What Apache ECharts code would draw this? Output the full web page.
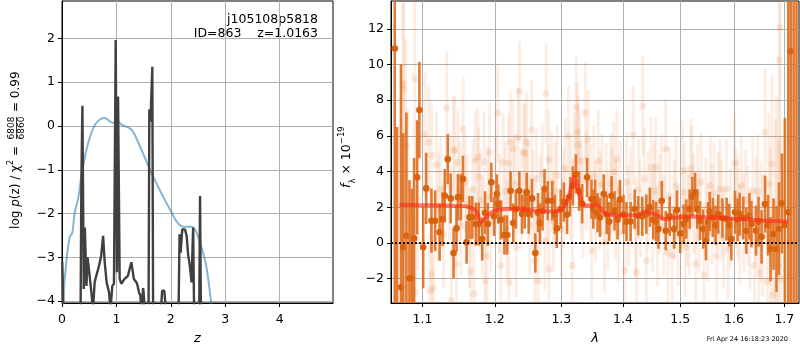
<!DOCTYPE html>
<html>
<head>
<meta charset="utf-8">
<script src="https://cdn.jsdelivr.net/npm/echarts@6/dist/echarts.min.js"></script>
<style>
  html, body { margin: 0; padding: 0; background: #fff; }
  #chart { width: 800px; height: 350px; }
</style>
</head>
<body>
<div id="chart"></div>
<script>
const FONT = 'DejaVu Sans';

// left panel: log p(z)
const zTicks = [0, 1, 2, 3, 4];
const logpTicks = [-4, -3, -2, -1, 0, 1, 2];
const priorCurve = [
  [0.0, -5.5], [0.02, -4.0], [0.08, -3.1], [0.14, -2.54], [0.19, -2.43], [0.233, -1.98],
  [0.295, -1.67], [0.356, -1.15], [0.45, -0.54], [0.54, -0.16], [0.63, 0.07], [0.785, 0.18],
  [0.94, 0.07], [1.03, 0.1], [1.09, 0.03], [1.275, -0.08], [1.39, -0.35], [1.51, -0.69],
  [1.64, -1.07], [1.76, -1.37], [1.88, -1.67], [2.0, -1.94], [2.10, -2.17], [2.22, -2.3],
  [2.37, -2.3], [2.46, -2.4], [2.555, -2.74], [2.65, -3.19], [2.71, -3.72], [2.74, -4.02], [2.78, -4.5]
];
const logpCurve = [
  [0.005, -3.1], [0.02, -3.11], [0.035, -4.6], [0.34, -4.6], [0.356, -1.26], [0.375, 0.46],
  [0.40, -3.72], [0.42, -2.32], [0.45, -3.65], [0.47, -3.0], [0.50, -3.33], [0.54, -3.8],
  [0.57, -4.2], [0.60, -3.57], [0.63, -3.42], [0.68, -3.19], [0.72, -2.96], [0.755, -2.51],
  [0.785, -3.11], [0.82, -3.57], [0.865, -3.8], [0.89, -4.2], [0.925, -3.65], [0.955, -3.6],
  [0.987, 1.96], [1.01, -3.34], [1.03, 0.67], [1.06, -3.49], [1.09, -3.6], [1.15, -3.49],
  [1.21, -3.42], [1.275, -3.11], [1.32, -3.49], [1.37, -3.57], [1.39, -3.65], [1.415, -3.8],
  [1.44, -3.87], [1.46, -4.3], [1.49, -3.7], [1.50, -3.8], [1.53, -4.4], [1.59, -4.4],
  [1.605, 0.38], [1.625, 0.1], [1.66, 1.35], [1.675, -4.6], [1.80, -4.6], [1.84, -3.76],
  [1.88, -3.76], [1.91, -3.8], [1.93, -4.5], [2.14, -4.5], [2.16, -2.47], [2.18, -2.89],
  [2.21, -2.36], [2.23, -2.4], [2.26, -2.36], [2.29, -2.5], [2.32, -2.96], [2.35, -3.2],
  [2.38, -3.57], [2.41, -2.32], [2.43, -4.5], [2.52, -4.5], [2.537, -1.6], [2.555, -4.6], [4.98, -4.6]
];

// right panel: spectrum [lambda, flux, err]
const lamTicks = [1.1, 1.2, 1.3, 1.4, 1.5, 1.6, 1.7];
const fluxTicks = [-2, 0, 2, 4, 6, 8, 10, 12];
const specPoints = [
  [1.064, 10.9, 16], [1.067, -4.5, 11], [1.072, -2.48, 12.5], [1.075, -0.24, 6.4], [1.079, 0.41, 6.9],
  [1.083, -1.98, 5.5], [1.086, -1.95, 5.0], [1.089, 0.26, 4.5], [1.093, 3.68, 3.2], [1.096, 7.45, 2.7],
  [1.101, -0.24, 2.3], [1.105, 3.06, 2.0], [1.112, 1.25, 1.8], [1.117, 1.25, 1.7], [1.123, 0.6, 1.6],
  [1.127, 1.34, 1.5], [1.130, 2.65, 1.5], [1.134, 4.7, 1.4], [1.138, 2.5, 1.4], [1.142, -0.56, 1.4],
  [1.146, 0.82, 1.3], [1.148, 2.56, 1.3], [1.152, 2.56, 1.3], [1.155, 3.59, 1.3], [1.160, 0.04, 1.2],
  [1.164, 1.44, 1.2], [1.168, 1.44, 1.2], [1.173, 1.06, 1.2], [1.177, 1.06, 1.2], [1.182, 0.22, 1.2],
  [1.186, 1.7, 1.2], [1.190, 1.06, 1.2], [1.195, 3.4, 1.1], [1.199, 1.5, 1.1], [1.203, 2.75, 1.1],
  [1.205, 2.18, 1.1], [1.209, 1.3, 1.1], [1.214, 0.45, 1.1], [1.218, 0.45, 1.1], [1.223, 2.93, 1.1],
  [1.227, 1.12, 1.1], [1.231, 1.9, 1.1], [1.236, 2.93, 1.1], [1.240, 1.62, 1.1], [1.244, 1.9, 1.1],
  [1.247, 2.84, 1.1], [1.250, 1.62, 1.1], [1.255, 2.5, 1.1], [1.260, -0.56, 1.1], [1.264, 1.7, 1.1],
  [1.267, 1.12, 1.1], [1.271, 1.8, 1.1], [1.274, 3.03, 1.1], [1.279, 2.37, 1.1], [1.286, 2.37, 1.1],
  [1.290, 1.6, 1.1], [1.293, 0.82, 1.1], [1.299, 1.9, 1.1], [1.304, 2.3, 1.1], [1.309, 1.6, 1.1],
  [1.314, 2.6, 1.1], [1.318, 3.2, 1.1], [1.323, 3.87, 1.1], [1.328, 2.9, 1.1], [1.333, 2.2, 1.1],
  [1.341, 3.68, 1.1], [1.348, 2.46, 1.1], [1.351, 1.9, 1.1], [1.354, 2.46, 1.1], [1.358, 1.7, 1.1],
  [1.362, 1.44, 1.1], [1.368, 2.75, 1.1], [1.373, 1.6, 1.1], [1.377, 1.2, 1.1], [1.381, 2.65, 1.1],
  [1.386, 1.8, 1.1], [1.391, 1.3, 1.1], [1.395, 2.43, 1.1], [1.401, 1.6, 1.1], [1.406, 1.2, 1.1],
  [1.413, 1.2, 1.1], [1.420, 1.9, 1.1], [1.426, 1.53, 1.1], [1.433, 1.5, 1.1], [1.440, 1.62, 1.1],
  [1.446, 2.0, 1.1], [1.452, 1.3, 1.1], [1.457, 1.2, 1.1], [1.461, 0.78, 1.1], [1.467, 2.37, 1.1],
  [1.474, 0.69, 1.1], [1.481, 1.5, 1.1], [1.489, 0.78, 1.1], [1.494, 1.85, 1.1], [1.500, 0.54, 1.1],
  [1.506, 1.06, 1.1], [1.511, 1.34, 1.1], [1.517, 1.9, 1.1], [1.522, 2.6, 1.1], [1.527, 2.84, 1.1],
  [1.531, 1.9, 1.1], [1.536, 1.25, 1.1], [1.542, 0.78, 1.1], [1.547, 0.13, 1.1], [1.551, 1.2, 1.1],
  [1.554, 1.77, 1.1], [1.560, 1.44, 1.1], [1.565, 1.0, 1.1], [1.570, 1.62, 1.1], [1.578, 1.4, 1.1],
  [1.586, 1.34, 1.2], [1.591, 1.0, 1.2], [1.595, 0.22, 1.2], [1.602, 1.72, 1.2], [1.607, 1.3, 1.2],
  [1.611, 1.62, 1.2], [1.618, 1.4, 1.2], [1.624, 0.69, 1.3], [1.630, 1.5, 1.3], [1.634, 1.06, 1.3],
  [1.643, 0.69, 1.4], [1.648, 1.2, 1.4], [1.654, 0.35, 1.5], [1.661, 2.18, 1.6], [1.667, 1.0, 1.7],
  [1.672, -0.34, 1.8], [1.678, 0.5, 2.0], [1.684, -0.34, 2.4], [1.689, 0.8, 2.6], [1.695, 2.22, 2.8],
  [1.701, 1.0, 6], [1.708, 1.72, 12], [1.713, 10.74, 15], [1.719, -5, 20], [1.725, -5, 20]
];
const specFaint = [
  [1.0746, 8.9, 7], [1.0755, 8.6, 7], [1.0781, 5.45, 6], [1.0808, 1.5, 6], [1.0899, 9.2, 5], [1.0903, -2.76, 4.5],
  [1.0938, 2.5, 4], [1.1031, 6.1, 3.5], [1.1080, 5.64, 3.2], [1.1097, -2.67, 3.2], [1.1120, 4.9, 3], [1.1124, -1.74, 3],
  [1.1146, -2.54, 3], [1.1186, 4.37, 3], [1.1217, 2.0, 3], [1.1243, 3.0, 3], [1.1283, 0.5, 3], [1.1327, 7.55, 3.2],
  [1.1363, 3.2, 3], [1.1390, -3.23, 3], [1.1417, 5.17, 3], [1.1434, 5.23, 3], [1.1457, -1.18, 3], [1.1479, 4.52, 3],
  [1.1504, 2.9, 2.8], [1.1524, 1.0, 2.8], [1.1551, 6.39, 2.9], [1.1578, 3.4, 2.8], [1.1605, 2.2, 2.8], [1.1638, 0.3, 2.8],
  [1.1659, -1.6, 2.8], [1.1686, 3.0, 2.8], [1.1703, -2.86, 2.8], [1.1722, 4.61, 2.8], [1.1757, 4.8, 2.8], [1.1771, 3.7, 2.8],
  [1.1793, 2.4, 2.8], [1.1820, 0.9, 2.8], [1.1847, 4.55, 2.8], [1.1861, -2.11, 2.8], [1.1884, -0.71, 2.8], [1.1902, 2.6, 2.8],
  [1.1925, 5.08, 2.8], [1.1942, 1.2, 2.8], [1.2010, 3.3, 2.8], [1.2043, 7.28, 2.8], [1.2068, 2.2, 2.8], [1.2087, -1.27, 2.8],
  [1.2121, 4.52, 2.8], [1.2155, 2.9, 2.8], [1.2176, 0.8, 2.8], [1.2202, 4.48, 2.8], [1.2208, -2.2, 2.8], [1.2227, 5.64, 2.8],
  [1.2266, 5.27, 2.8], [1.2292, 3.3, 2.8], [1.2314, -0.24, 2.8], [1.2338, 5.9, 2.8], [1.2361, 8.5, 2.8], [1.2386, 2.5, 2.8],
  [1.2425, 5.08, 2.8], [1.2444, 4.99, 2.8], [1.2468, 5.64, 2.8], [1.2494, 3.0, 2.8], [1.2516, 1.0, 2.8], [1.2545, 6.33, 2.8],
  [1.2566, 2.4, 2.8], [1.2592, -0.99, 2.8], [1.2617, 3.6, 2.8], [1.2641, -2.11, 2.8], [1.2675, 2.1, 2.8], [1.2704, 3.9, 2.8],
  [1.2747, 0.13, 2.8], [1.2766, 8.38, 2.8], [1.2790, 2.7, 2.8], [1.2805, 4.67, 2.8], [1.2809, -1.46, 2.8], [1.2848, 3.4, 2.8],
  [1.2877, 1.2, 2.8], [1.2906, 2.9, 2.8], [1.2935, 3.8, 2.8], [1.3000, 0.8, 2.8], [1.3031, 2.5, 2.8], [1.3063, 4.2, 2.8],
  [1.3114, 6.0, 2.8], [1.3141, 3.0, 2.8], [1.3172, -1.27, 2.8], [1.3203, 4.5, 2.8], [1.3235, 7.6, 2.8], [1.3250, 6.2, 2.8],
  [1.3266, 5.49, 2.8], [1.3290, 4.61, 2.8], [1.3313, 3.0, 2.8], [1.3344, 2.0, 2.8], [1.3380, 7.32, 2.8], [1.3399, 3.5, 2.8],
  [1.3427, 5.77, 2.8], [1.3462, 2.7, 2.8], [1.3485, -0.43, 2.8], [1.3516, 3.8, 2.8], [1.3548, 1.8, 2.8], [1.3590, 4.61, 2.8],
  [1.3618, 2.4, 2.8], [1.3650, 3.3, 2.8], [1.3693, 0.04, 2.8], [1.3720, 2.8, 2.8], [1.3751, 1.3, 2.8], [1.3798, 3.31, 2.8],
  [1.3814, 2.65, 2.8], [1.3845, 4.0, 2.8], [1.3876, 1.9, 2.8], [1.3897, 4.7, 2.8], [1.3923, 0.6, 2.8], [1.3954, 2.9, 2.8],
  [1.4034, -1.55, 2.8], [1.4062, 3.4, 2.8], [1.4096, 1.5, 2.8], [1.4130, 2.6, 2.8], [1.4176, 6.05, 2.8], [1.4214, 0.9, 2.8],
  [1.4231, -1.64, 2.8], [1.4265, 3.0, 2.8], [1.4299, 2.0, 2.8], [1.4338, 7.66, 2.8], [1.4367, 3.6, 2.8], [1.4400, -0.99, 2.8],
  [1.4434, 2.4, 2.8], [1.4485, 4.24, 2.8], [1.4510, 1.2, 2.8], [1.4541, 2.93, 2.8], [1.4564, 4.24, 2.8], [1.4595, 0.4, 2.8],
  [1.4629, 2.2, 2.8], [1.4662, 3.3, 2.8], [1.4705, 1.0, 2.8], [1.4738, 5.27, 2.8], [1.4777, -0.52, 2.8], [1.4806, 2.6, 2.8],
  [1.4851, -0.71, 2.8], [1.4890, 1.9, 2.8], [1.4924, 3.2, 2.8], [1.4958, 0.4, 2.8], [1.5042, 4.05, 2.8], [1.5072, 2.84, 2.8],
  [1.5090, -0.24, 2.8], [1.5126, 1.5, 2.8], [1.5162, 0.97, 2.8], [1.5193, 4.18, 2.8], [1.5211, 3.77, 2.8], [1.5243, 2.2, 2.8],
  [1.5283, -1.18, 2.8], [1.5316, 2.7, 2.8], [1.5343, 1.16, 2.8], [1.5379, 3.4, 2.8], [1.5433, -1.79, 2.8], [1.5469, 2.0, 2.8],
  [1.5505, 0.6, 2.8], [1.5554, 3.21, 2.8], [1.5583, 1.62, 2.8], [1.5623, 2.8, 2.8], [1.5673, -0.71, 2.8], [1.5704, 2.3, 2.8],
  [1.5735, 3.03, 2.8], [1.5764, 1.9, 2.8], [1.5804, 0.3, 2.8], [1.5854, 3.03, 2.8], [1.5885, -0.34, 2.8], [1.5930, 1.4, 2.8],
  [1.6013, 4.48, 2.8], [1.6042, 2.5, 2.8], [1.6077, 2.0, 2.8], [1.6110, 0.5, 2.8], [1.6143, 3.21, 2.8], [1.6187, 1.1, 2.8],
  [1.6226, 2.4, 2.8], [1.6270, 1.53, 2.8], [1.6312, 0.2, 2.8], [1.6366, 2.93, 3], [1.6399, -1.27, 3], [1.6431, 1.8, 3],
  [1.6462, 2.87, 3.2], [1.6485, -1.68, 3.2], [1.6527, 1.19, 3.4], [1.6562, 0.4, 3.4], [1.6610, 6.2, 3.6], [1.6655, -2.17, 3.8],
  [1.6687, 3.31, 4], [1.6716, 0.9, 4.5], [1.6751, 4.43, 5], [1.6770, -2.91, 5], [1.6816, 0.97, 6], [1.6841, 2.2, 6],
  [1.6880, -1.27, 7], [1.6893, 10.25, 7], [1.6912, 12.08, 8], [1.6928, -2.02, 8]
];
const modelLine = [
  [1.070, 2.15], [1.10, 2.12], [1.13, 2.10], [1.16, 2.05], [1.172, 1.85], [1.181, 1.18], [1.19, 1.55],
  [1.20, 1.82], [1.22, 1.90], [1.25, 1.85], [1.28, 1.76], [1.30, 1.85], [1.31, 2.4], [1.321, 3.7],
  [1.328, 2.8], [1.335, 2.15], [1.35, 2.1], [1.356, 2.2], [1.37, 1.65], [1.40, 1.55], [1.425, 1.55],
  [1.438, 1.8], [1.455, 1.6], [1.473, 1.34], [1.51, 1.48], [1.55, 1.45], [1.59, 1.38], [1.63, 1.32],
  [1.66, 1.25], [1.708, 1.2]
];

function minus(v) {
  return String(v).replace('-', '\u2212');
}

function tickAxis(ticks, margin, formatter) {
  return {
    axisLine: { show: true, onZero: false, lineStyle: { color: '#000', width: 1 } },
    axisTick: { show: true, inside: false, length: 4, customValues: ticks, lineStyle: { color: '#000', width: 1 } },
    axisLabel: {
      customValues: ticks,
      margin: margin,
      color: '#000',
      fontSize: 12.5,
      fontFamily: FONT,
      formatter: formatter || minus
    },
    splitLine: { show: true, lineStyle: { color: '#b0b0b0', width: 1 } }
  };
}

function errorBars(radius, barColor, dotColor, barWidth) {
  return function (params, api) {
    const x = api.value(0);
    const y = api.value(1);
    const e = api.value(2);
    const top = api.coord([x, y + e]);
    const bot = api.coord([x, y - e]);
    const c = api.coord([x, y]);
    return {
      type: 'group',
      children: [
        { type: 'line', shape: { x1: top[0], y1: top[1], x2: bot[0], y2: bot[1] }, style: { stroke: barColor, lineWidth: barWidth } },
        { type: 'circle', shape: { cx: c[0], cy: c[1], r: radius }, style: { fill: dotColor } }
      ]
    };
  };
}

const chart = echarts.init(document.getElementById('chart'), null, { renderer: 'canvas' });

const option = {
  animation: false,
  backgroundColor: '#fff',
  grid: [
    { left: 62, top: 1, width: 271, height: 303, show: true, borderColor: '#000', borderWidth: 1 },
    { left: 391, top: 1, width: 408, height: 303, show: true, borderColor: '#000', borderWidth: 1 }
  ],
  xAxis: [
    Object.assign({
      gridIndex: 0, type: 'value', min: 0, max: 4.98,
      name: 'z', nameLocation: 'middle', nameGap: 29,
      nameTextStyle: { fontStyle: 'italic', fontSize: 13, color: '#000', fontFamily: FONT }
    }, tickAxis(zTicks, 10)),
    Object.assign({
      gridIndex: 1, type: 'log', logBase: 10, min: 1.0592, max: 1.7302,
      name: 'λ', nameLocation: 'middle', nameGap: 29,
      nameTextStyle: { fontStyle: 'italic', fontSize: 13, color: '#000', fontFamily: FONT }
    }, tickAxis(lamTicks, 10, v => Number(v).toFixed(1)))
  ],
  yAxis: [
    Object.assign({ gridIndex: 0, type: 'value', min: -4.04, max: 2.85 }, tickAxis(logpTicks, 7)),
    Object.assign({ gridIndex: 1, type: 'value', min: -3.36, max: 13.56 }, tickAxis(fluxTicks, 7))
  ],
  series: [
    {
      type: 'line', xAxisIndex: 0, yAxisIndex: 0, data: priorCurve, showSymbol: false, smooth: 0.3,
      lineStyle: { color: 'rgba(31,119,180,0.55)', width: 2 }
    },
    {
      type: 'line', xAxisIndex: 0, yAxisIndex: 0, data: logpCurve, showSymbol: false,
      lineStyle: { color: '#404040', width: 2.4 }
    },
    {
      type: 'custom', xAxisIndex: 1, yAxisIndex: 1, data: specFaint, clip: true,
      encode: { x: 0, y: 1 },
      renderItem: errorBars(3.5, 'rgba(232,125,55,0.13)', 'rgba(232,125,55,0.16)', 3)
    },
    {
      type: 'custom', xAxisIndex: 1, yAxisIndex: 1, data: specPoints, clip: true,
      encode: { x: 0, y: 1 },
      renderItem: errorBars(3.3, 'rgba(222,112,35,0.92)', '#d9620f', 2.6)
    },
    {
      type: 'line', xAxisIndex: 1, yAxisIndex: 1, data: modelLine, showSymbol: false, smooth: 0.2,
      lineStyle: { color: 'rgba(255,40,20,0.6)', width: 4 },
      markLine: {
        silent: true, symbol: ['none', 'none'], label: { show: false },
        lineStyle: { color: '#111', type: [2, 2], width: 2 },
        data: [{ yAxis: 0 }]
      }
    }
  ],
  graphic: [
    {
      type: 'text', x: 318, y: 20,
      style: { text: 'j105108p5818', align: 'right', verticalAlign: 'middle', font: '12.5px "DejaVu Sans"', fill: '#000' }
    },
    {
      type: 'text', x: 318, y: 34,
      style: { text: 'ID=863    z=1.0163', align: 'right', verticalAlign: 'middle', font: '12.5px "DejaVu Sans"', fill: '#000' }
    },
    {
      type: 'group', x: 16, y: 238, rotation: Math.PI / 2,
      children: [
        {
          type: 'text', x: 92, y: 0,
          style: {
            text: '{n|log }{i|p}{n|(z) / χ}{s|2}{n| =}',
            align: 'right', verticalAlign: 'middle', fill: '#000',
            rich: {
              n: { fontSize: 12, fontFamily: FONT, lineHeight: 18 },
              i: { fontSize: 12, fontFamily: FONT, fontStyle: 'italic', lineHeight: 18 },
              s: { fontSize: 8, fontFamily: FONT, lineHeight: 9, verticalAlign: 'top' }
            }
          }
        },
        { type: 'text', x: 110, y: -4.5, style: { text: '6808', align: 'center', verticalAlign: 'middle', font: '9px "DejaVu Sans"', fill: '#000' } },
        { type: 'line', shape: { x1: 99, y1: 0.5, x2: 121, y2: 0.5 }, style: { stroke: '#000', lineWidth: 0.8 } },
        { type: 'text', x: 110, y: 5.5, style: { text: '6860', align: 'center', verticalAlign: 'middle', font: '9px "DejaVu Sans"', fill: '#000' } },
        { type: 'text', x: 126, y: 0, style: { text: '= 0.99', align: 'left', verticalAlign: 'middle', font: '12px "DejaVu Sans"', fill: '#000' } }
      ]
    },
    {
      type: 'group', x: 347, y: 188, rotation: Math.PI / 2,
      children: [
        {
          type: 'text', x: 0, y: 0,
          style: {
            text: '{i|f}{b|λ}{n| × 10}{t|−19}',
            align: 'left', verticalAlign: 'middle', fill: '#000',
            rich: {
              n: { fontSize: 12.5, fontFamily: FONT, lineHeight: 20 },
              i: { fontSize: 12.5, fontFamily: FONT, fontStyle: 'italic', lineHeight: 20 },
              b: { fontSize: 8.5, fontFamily: FONT, lineHeight: 10, verticalAlign: 'bottom' },
              t: { fontSize: 8.5, fontFamily: FONT, lineHeight: 10, verticalAlign: 'top' }
            }
          }
        }
      ]
    },
    {
      type: 'text', x: 788, y: 339,
      style: { text: 'Fri Apr 24 16:18:23 2020', align: 'right', verticalAlign: 'middle', font: '6.5px "DejaVu Sans"', fill: '#000' }
    }
  ]
};

chart.setOption(option);
</script>
</body>
</html>
